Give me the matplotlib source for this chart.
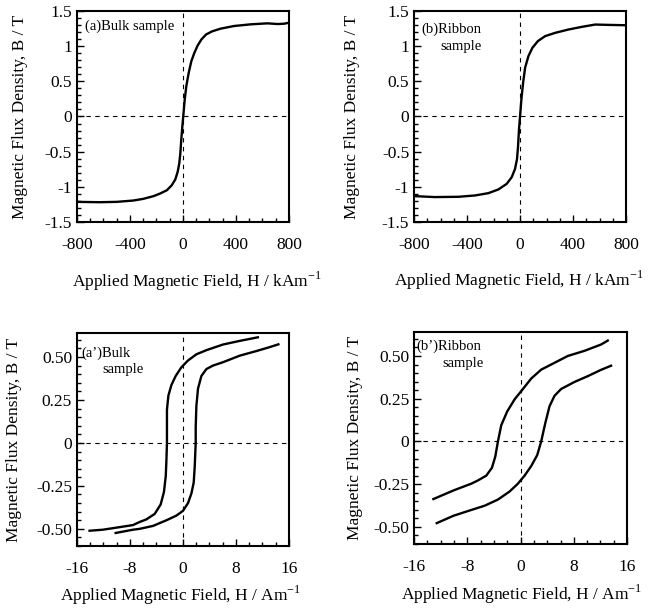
import numpy as np
import matplotlib.pyplot as plt
from matplotlib.ticker import MultipleLocator

plt.rcParams['font.family'] = ['Liberation Serif', 'DejaVu Serif']
plt.rcParams['axes.unicode_minus'] = False
plt.rcParams['mathtext.fontset'] = 'custom'
plt.rcParams['mathtext.rm'] = 'Liberation Serif'

# (a) bulk sample, full loop (kA/m, T)
bulk_h = [-800, -628, -501, -374, -299, -223, -172, -121, -84, -58, -40, -28, -20,
          -13, -5, 3, 13, 25, 43, 63, 86, 111, 139, 175, 220, 283, 385, 511, 638,
          714, 764, 800]
bulk_b = [-1.214, -1.219, -1.214, -1.195, -1.171, -1.133, -1.095, -1.048, -0.976,
          -0.895, -0.786, -0.667, -0.524, -0.333, -0.143, 0.024, 0.238, 0.429,
          0.619, 0.786, 0.905, 1.01, 1.095, 1.167, 1.21, 1.248, 1.286, 1.31,
          1.324, 1.314, 1.319, 1.333]

# (b) ribbon sample, full loop
ribbon_h = [-800, -643, -466, -340, -239, -164, -101, -63, -38, -23, -15, -8, 0,
            10, 23, 38, 63, 93, 134, 189, 265, 365, 466, 567, 668, 800]
ribbon_b = [-1.132, -1.146, -1.142, -1.123, -1.09, -1.038, -0.958, -0.863,
            -0.745, -0.604, -0.415, -0.179, 0.009, 0.245, 0.481, 0.693, 0.858,
            0.976, 1.071, 1.142, 1.189, 1.236, 1.274, 1.307, 1.302, 1.297]

# (a') bulk sample, minor loop (A/m, T)
bulk_down_h = [11.3, 8.56, 6.04, 3.53, 2.02, 0.76, -0.25, -1.1, -1.75, -2.2,
               -2.42, -2.42, -2.42, -2.5, -2.6, -2.87, -3.37, -4.27, -5.53,
               -6.54, -7.55, -10.06, -12.1, -14.1]
bulk_down_b = [0.615, 0.594, 0.573, 0.54, 0.516, 0.48, 0.44, 0.39, 0.337, 0.276,
               0.194, 0.092, 0.0, -0.10, -0.193, -0.285, -0.358, -0.413, -0.445,
               -0.46, -0.478, -0.493, -0.505, -0.511]
bulk_up_h = [-10.16, -7.55, -6.54, -4.53, -2.5, -1.0, 0.0, 0.76, 1.27, 1.62, 1.77,
             1.87, 1.92, 1.92, 2.02, 2.27, 2.78, 3.53, 4.5, 6.04, 8.56, 11.08,
             13.1, 14.4]
bulk_up_b = [-0.524, -0.505, -0.50, -0.483, -0.45, -0.423, -0.395, -0.35, -0.294,
             -0.23, -0.138, -0.046, 0.0, 0.092, 0.215, 0.317, 0.39, 0.43, 0.45,
             0.47, 0.508, 0.535, 0.558, 0.574]

# (b') ribbon sample, minor loop
rib_down_h = [13.1, 12.1, 9.6, 7.1, 5.1, 3.1, 1.6, 0.36, -0.9, -2.0, -2.9, -3.4,
              -3.8, -4.3, -5.15, -6.4, -7.4, -10.1, -13.1]
rib_down_b = [0.59, 0.567, 0.53, 0.50, 0.46, 0.42, 0.368, 0.307, 0.246, 0.176,
              0.095, 0.0, -0.089, -0.154, -0.2, -0.228, -0.247, -0.287, -0.337]
rib_up_h = [-12.6, -10.1, -7.5, -5.4, -3.4, -1.65, -0.4, 0.6, 1.6, 2.5, 3.1, 3.7,
            4.35, 5.1, 6.1, 8.1, 10.1, 12.1, 13.6]
rib_up_b = [-0.478, -0.435, -0.402, -0.376, -0.34, -0.293, -0.247, -0.2, -0.144,
            -0.08, 0.0, 0.105, 0.206, 0.267, 0.307, 0.348, 0.382, 0.419, 0.443]

ylab = 'Magnetic Flux Density, B / T'
xlab_k = 'Applied Magnetic Field, H / kAm$^{-1}$'
xlab = 'Applied Magnetic Field, H / Am$^{-1}$'

fig = plt.figure(figsize=(6.49, 6.09), dpi=100)
ax_a = fig.add_axes([0.1186, 0.6355, 0.3267, 0.3465])
ax_b = fig.add_axes([0.6380, 0.6355, 0.3267, 0.3465])
ax_c = fig.add_axes([0.1186, 0.1034, 0.3267, 0.3498])
ax_d = fig.add_axes([0.6380, 0.1067, 0.3282, 0.3481])


def style(ax, xlim, ylim, xmaj, xmin, ymaj, ymin, xlabel, xlc, ylc):
    ax.set_xlim(*xlim)
    ax.set_ylim(*ylim)
    ax.axhline(0, color='k', lw=0.8, ls=(0, (4, 4)))
    ax.axvline(0, color='k', lw=0.8, ls=(0, (4, 4)))
    ax.xaxis.set_major_locator(MultipleLocator(xmaj))
    ax.xaxis.set_minor_locator(MultipleLocator(xmin))
    ax.yaxis.set_major_locator(MultipleLocator(ymaj))
    ax.yaxis.set_minor_locator(MultipleLocator(ymin))
    ax.tick_params(which='both', direction='in', top=False, right=False,
                   labelsize=12.5, width=1)
    ax.tick_params(which='major', length=5)
    ax.tick_params(which='minor', length=3)
    ax.tick_params(axis='x', pad=11)
    ax.tick_params(axis='y', pad=3.5)
    for s in ax.spines.values():
        s.set_linewidth(1.5)
    ax.set_ylabel(ylab, fontsize=12.5)
    ax.set_xlabel(xlabel, fontsize=12.5, va='top')
    ax.xaxis.set_label_coords(*xlc)
    ax.yaxis.set_label_coords(ylc, 0.5)


full_ticks = [-1.5, -1, -0.5, 0, 0.5, 1, 1.5]
full_labels = ['-1.5', '-1', '-0.5', '0', '0.5', '1', '1.5']
minor_ticks = [-0.5, -0.25, 0, 0.25, 0.5]
minor_labels = ['-0.50', '-0.25', '0', '0.25', '0.50']

ax_a.plot(bulk_h, bulk_b, color='k', lw=1.7)
style(ax_a, (-800, 800), (-1.5, 1.5), 400, 100, 0.5, 0.1, xlab_k,
      (0.564, -0.225), -0.231)
ax_a.set_yticks(full_ticks)
ax_a.set_yticklabels(full_labels)
ax_a.text(-740, 1.28, '(a)Bulk sample', fontsize=10.5, va='center')

ax_b.plot(ribbon_h, ribbon_b, color='k', lw=1.7)
style(ax_b, (-800, 800), (-1.5, 1.5), 400, 100, 0.5, 0.1, xlab_k,
      (0.493, -0.22), -0.255)
ax_b.set_yticks(full_ticks)
ax_b.set_yticklabels(full_labels)
ax_b.text(-747, 1.24, '(b)Ribbon', fontsize=10.5, va='center')
ax_b.text(-605, 0.99, 'sample', fontsize=10.5, va='center')

ax_c.plot(bulk_down_h, bulk_down_b, color='k', lw=1.7)
ax_c.plot(bulk_up_h, bulk_up_b, color='k', lw=1.7)
style(ax_c, (-16, 16), (-0.6, 0.64), 8, 2, 0.25, 0.05, xlab,
      (0.491, -0.178), -0.259)
ax_c.set_yticks(minor_ticks)
ax_c.set_yticklabels(minor_labels)
ax_c.text(-15.4, 0.52, '(a\u2019)Bulk', fontsize=10.5, va='center')
ax_c.text(-12.1, 0.43, 'sample', fontsize=10.5, va='center')

ax_d.plot(rib_down_h, rib_down_b, color='k', lw=1.7)
ax_d.plot(rib_up_h, rib_up_b, color='k', lw=1.7)
style(ax_d, (-16, 16), (-0.6, 0.64), 8, 2, 0.25, 0.05, xlab,
      (0.507, -0.184), -0.239)
ax_d.set_yticks(minor_ticks)
ax_d.set_yticklabels(minor_labels)
ax_d.text(-15.7, 0.555, '(b\u2019)Ribbon', fontsize=10.5, va='center')
ax_d.text(-11.8, 0.455, 'sample', fontsize=10.5, va='center')

fig.savefig('out.png', dpi=100)
